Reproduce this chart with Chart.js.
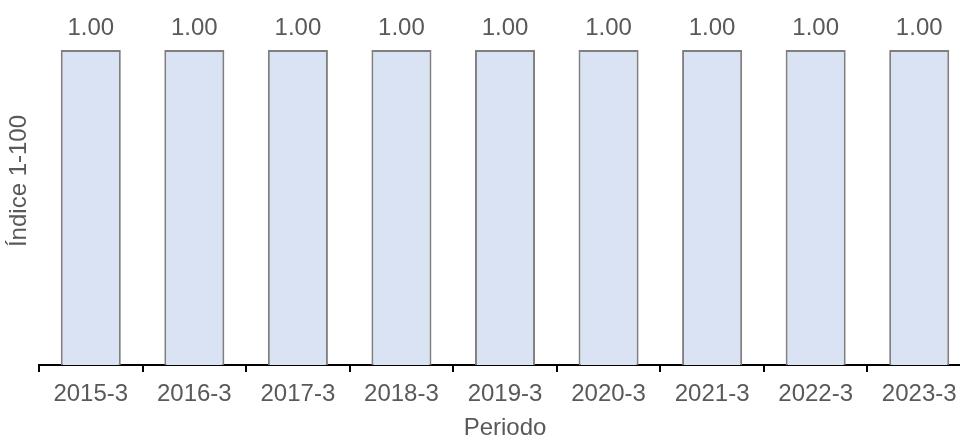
<!DOCTYPE html>
<html>
<head>
<meta charset="utf-8">
<script src="https://cdn.jsdelivr.net/npm/chart.js@4"></script>
<style>
  html, body { margin: 0; padding: 0; background: #fff; overflow: hidden; }
  #wrap { width: 971px; height: 439px; position: relative; }
</style>
</head>
<body>
<div id="wrap"><canvas id="indexChart"></canvas></div>
<script>
const periods = ['2015-3', '2016-3', '2017-3', '2018-3', '2019-3', '2020-3', '2021-3', '2022-3', '2023-3'];
const indexValues = [1, 1, 1, 1, 1, 1, 1, 1, 1];

const textGrey = '#595959';
const fontFamily = '"Liberation Sans", Arial, sans-serif';

// value labels above the bars + the y title (it sits high in the original)
const extras = {
  id: 'extras',
  afterDatasetsDraw(chart) {
    const ctx = chart.ctx;
    ctx.save();
    ctx.font = '24px ' + fontFamily;
    ctx.fillStyle = textGrey;
    ctx.textAlign = 'center';
    ctx.textBaseline = 'middle';
    chart.getDatasetMeta(0).data.forEach((bar, i) => {
      ctx.fillText(indexValues[i].toFixed(2), bar.x, bar.y - 22);
    });
    ctx.translate(19, 181);
    ctx.rotate(-Math.PI / 2);
    ctx.fillText('Índice 1-100', 0, 0);
    ctx.restore();
  }
};

const el = document.getElementById('indexChart');

new Chart(el, {
  type: 'bar',
  data: {
    labels: periods,
    datasets: [{
      data: indexValues,
      backgroundColor: '#dae3f3',
      borderColor: '#7f7f7f',
      borderWidth: 2,
      barPercentage: 0.58,
      categoryPercentage: 1
    }]
  },
  options: {
    responsive: true,
    maintainAspectRatio: false,
    animation: false,
    layout: { padding: { top: 50, left: 39, right: 0, bottom: -1 } },
    plugins: {
      legend: { display: false },
      tooltip: { enabled: false }
    },
    scales: {
      x: {
        offset: true,
        grid: {
          offset: true,
          drawOnChartArea: false,
          drawTicks: true,
          tickLength: 7,
          color: '#000',
          lineWidth: 2
        },
        border: { display: true, color: '#000', width: 2 },
        ticks: { color: textGrey, font: { family: fontFamily, size: 24, lineHeight: 1 }, padding: 10 },
        title: {
          display: true,
          text: 'Periodo',
          color: textGrey,
          font: { family: fontFamily, size: 24, lineHeight: 1 },
          padding: { top: 0, bottom: 0 }
        }
      },
      y: {
        display: false,
        min: 0,
        max: 1
      }
    }
  },
  plugins: [extras]
});
</script>
</body>
</html>
